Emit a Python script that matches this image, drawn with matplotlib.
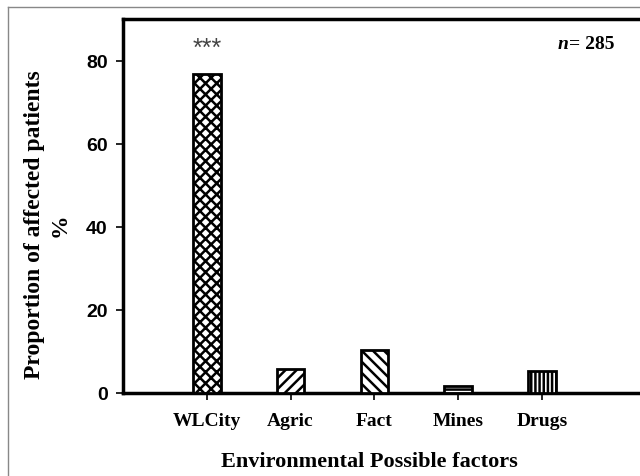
import matplotlib.pyplot as plt
from matplotlib.lines import Line2D

factors = ['WLCity', 'Agric', 'Fact', 'Mines', 'Drugs']
proportion = [76.8, 5.8, 10.4, 1.6, 5.3]
hatches = ['xxx', '///', '\\\\\\', '----', '||||']
positions = [1, 2, 3, 4, 5]

plt.rcParams['hatch.linewidth'] = 1.8

fig = plt.figure(figsize=(6.4, 4.77), dpi=100)
ax = fig.add_axes([123 / 640, 1 - 394 / 477, 517 / 640, 374 / 477])

for x, v, h in zip(positions, proportion, hatches):
    ax.bar(x, v, width=0.33, color='white', edgecolor='black',
           linewidth=2, hatch=h, zorder=3)

ax.set_xlim(0, 6.17)
ax.set_ylim(0, 90)
ax.set_yticks([0, 20, 40, 60, 80])
ax.set_xticks(positions)
ax.set_xticklabels(factors, fontfamily='Liberation Serif', fontweight='bold', fontsize=14)
for lab in ax.get_yticklabels():
    lab.set_fontfamily('Liberation Sans')
    lab.set_fontweight('bold')
    lab.set_fontsize(14)
ax.tick_params(axis='both', direction='out', length=5, width=1.2, pad=6)
ax.tick_params(axis='x', pad=9)

for s in ['left', 'bottom', 'top']:
    ax.spines[s].set_linewidth(2.5)
ax.spines['right'].set_visible(False)

ax.set_xlabel('Environmental Possible factors', fontfamily='Liberation Serif',
              fontweight='bold', fontsize=16)
ax.xaxis.set_label_coords(0.476, -0.155)
ax.set_ylabel('Proportion of affected patients\n%', fontfamily='Liberation Serif',
              fontweight='bold', fontsize=17, linespacing=1.25)
ax.yaxis.set_label_coords(-0.102, 0.452)

ax.text(1, 83, '***', ha='center', va='center', fontsize=18,
        color='#444444', fontfamily='Liberation Sans')
ax.text(5.19, 84, 'n', ha='left', va='center', fontsize=14, style='italic',
        fontweight='bold', fontfamily='Liberation Serif')
ax.text(5.32, 84, '= 285', ha='left', va='center',
        fontsize=14, fontweight='bold', fontfamily='Liberation Serif')

# thin grey outer frame
fig.add_artist(Line2D([8 / 640, 8 / 640], [0, 1 - 8 / 477], transform=fig.transFigure,
                      color='#888888', linewidth=1))
fig.add_artist(Line2D([8 / 640, 1], [1 - 8 / 477, 1 - 8 / 477], transform=fig.transFigure,
                      color='#888888', linewidth=1))

fig.savefig('out.png', dpi=100)
